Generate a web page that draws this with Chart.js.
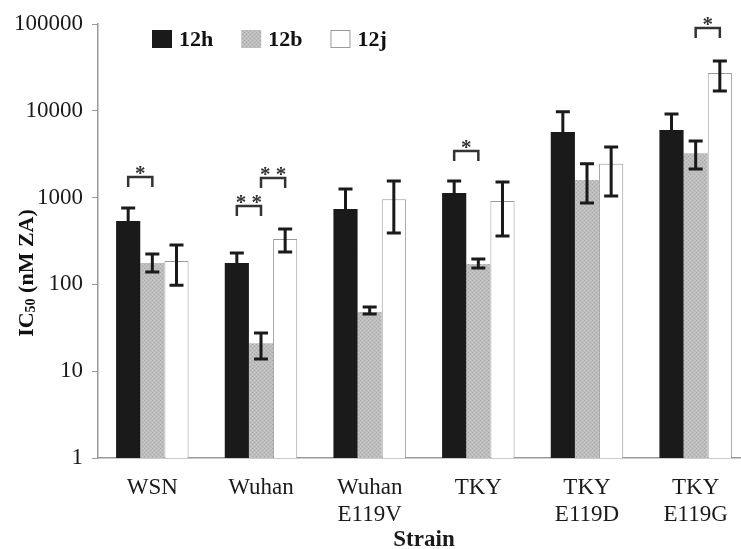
<!DOCTYPE html>
<html>
<head>
<meta charset="utf-8">
<script src="https://cdn.jsdelivr.net/npm/chart.js@4"></script>
<style>
  html, body { margin: 0; padding: 0; background: #fff; overflow: hidden; }
  canvas { display: block; }
</style>
</head>
<body>
<canvas id="ic50Chart" width="750" height="549"></canvas>
<script>
// strains on the x axis (multi-line labels)
const strains = [['WSN'], ['Wuhan'], ['Wuhan', 'E119V'], ['TKY'], ['TKY', 'E119D'], ['TKY', 'E119G']];
const seriesNames = ['12h', '12b', '12j'];

// IC50 (nM ZA)
const ic50_12h = [537, 177, 740, 1130, 5700, 6000];
const ic50_12b = [177, 21, 48, 172, 1590, 3250];
const ic50_12j = [186, 333, 960, 915, 2455, 27250];

// error bar ends
const errHigh_12h = [760, 230, 1255, 1550, 9730, 9200];
const errLow_12h  = [314, 124, 225, 710, 1670, 2800];
const errHigh_12b = [224, 27.5, 55, 196, 2455, 4500];
const errLow_12b  = [139, 13.8, 45.6, 155, 865, 2130];
const errHigh_12j = [284, 436, 1550, 1510, 3830, 37500];
const errLow_12j  = [98, 236, 390, 362, 1040, 16900];

const yTicks = [1, 10, 100, 1000, 10000, 100000];

// significance brackets: strain index, from series, to series, height (nM), stars
const sigCat   = [0, 1, 1, 3, 5];
const sigFrom  = [0, 0, 1, 0, 1];
const sigTo    = [1, 1, 2, 1, 2];
const sigLevel = [1730, 800, 1680, 3440, 90000];
const sigText  = ['*', '* *', '* *', '*', '*'];

const ctx = document.getElementById('ic50Chart').getContext('2d');
const SERIF = '"Liberation Serif", "Times New Roman", serif';
const INK = '#1a1a1a';

function stipple() {
  const c = document.createElement('canvas');
  c.width = 4; c.height = 4;
  const g = c.getContext('2d');
  g.fillStyle = '#bdbdbd'; g.fillRect(0, 0, 4, 4);
  g.fillStyle = '#aaaaaa'; g.fillRect(0, 0, 1, 1); g.fillRect(2, 2, 1, 1);
  g.fillStyle = '#cbcbcb'; g.fillRect(2, 0, 1, 1); g.fillRect(0, 2, 1, 1);
  return ctx.createPattern(c, 'repeat');
}
const grayFill = stipple();

const errors = [[errLow_12h, errHigh_12h], [errLow_12b, errHigh_12b], [errLow_12j, errHigh_12j]];

const errorBarPlugin = {
  id: 'errorBars',
  afterDatasetsDraw(chart) {
    const c = chart.ctx, y = chart.scales.y;
    c.save();
    c.strokeStyle = INK;
    c.lineWidth = 3;
    errors.forEach(([lo, hi], d) => {
      chart.getDatasetMeta(d).data.forEach((bar, i) => {
        const yl = y.getPixelForValue(lo[i]), yh = y.getPixelForValue(hi[i]);
        c.beginPath();
        c.moveTo(bar.x, yl); c.lineTo(bar.x, yh);
        c.moveTo(bar.x - 7, yh); c.lineTo(bar.x + 7, yh);
        c.moveTo(bar.x - 7, yl); c.lineTo(bar.x + 7, yl);
        c.stroke();
      });
    });
    c.restore();
  }
};

const bracketPlugin = {
  id: 'brackets',
  afterDatasetsDraw(chart) {
    const c = chart.ctx, y = chart.scales.y;
    c.save();
    c.strokeStyle = '#333';
    c.lineWidth = 2.5;
    c.fillStyle = '#333';
    c.font = 'bold 21px ' + SERIF;
    c.textAlign = 'center';
    c.textBaseline = 'alphabetic';
    sigCat.forEach((cat, k) => {
      const x1 = chart.getDatasetMeta(sigFrom[k]).data[cat].x;
      const x2 = chart.getDatasetMeta(sigTo[k]).data[cat].x;
      const yy = y.getPixelForValue(sigLevel[k]);
      c.beginPath();
      c.moveTo(x1, yy + 10); c.lineTo(x1, yy); c.lineTo(x2, yy); c.lineTo(x2, yy + 10);
      c.stroke();
      c.fillText(sigText[k], (x1 + x2) / 2, yy + 3);
    });
    c.restore();
  }
};

const legendAndTitlePlugin = {
  id: 'legendAndTitle',
  afterDraw(chart) {
    const c = chart.ctx, area = chart.chartArea;
    c.save();
    // legend
    c.font = 'bold 22px ' + SERIF;
    c.textBaseline = 'middle';
    c.textAlign = 'left';
    let x = area.left + 54;
    const top = area.top + 6;
    chart.data.datasets.forEach(ds => {
      c.fillStyle = ds.backgroundColor;
      c.fillRect(x, top, 20, 18);
      if (ds.borderWidth) {
        c.strokeStyle = ds.borderColor;
        c.lineWidth = 1;
        c.strokeRect(x + 0.5, top + 0.5, 19, 17);
      }
      c.fillStyle = '#111';
      c.fillText(ds.label, x + 27, top + 10);
      x += 27 + c.measureText(ds.label).width + 28;
    });
    // y axis title with subscript
    const cy = (area.top + area.bottom) / 2 + 32;
    c.translate(33, cy);
    c.rotate(-Math.PI / 2);
    c.textBaseline = 'alphabetic';
    const big = 'bold 22px ' + SERIF, small = 'bold 14px ' + SERIF;
    c.font = big; const w1 = c.measureText('IC').width;
    c.font = small; const w2 = c.measureText('50').width;
    c.font = big; const w3 = c.measureText(' (nM ZA)').width;
    let tx = -(w1 + w2 + w3) / 2;
    c.fillStyle = '#111';
    c.font = big; c.fillText('IC', tx, 0); tx += w1;
    c.font = small; c.fillText('50', tx, 2); tx += w2;
    c.font = big; c.fillText(' (nM ZA)', tx, 0);
    c.restore();
  }
};

new Chart(ctx, {
  type: 'bar',
  data: {
    labels: strains,
    datasets: [
      { label: seriesNames[0], data: ic50_12h, backgroundColor: INK, borderWidth: 0 },
      { label: seriesNames[1], data: ic50_12b, backgroundColor: grayFill, borderWidth: 0 },
      { label: seriesNames[2], data: ic50_12j, backgroundColor: '#ffffff', borderColor: '#9a9a9a', borderWidth: 1 }
    ]
  },
  options: {
    responsive: false,
    animation: false,
    devicePixelRatio: 1,
    layout: { padding: { top: 24, right: 0, bottom: 0, left: 0 } },
    datasets: { bar: { categoryPercentage: 0.667, barPercentage: 1 } },
    plugins: { legend: { display: false }, tooltip: { enabled: false } },
    scales: {
      x: {
        grid: { display: false, drawTicks: false },
        border: { display: true, color: '#999', width: 1.5 },
        ticks: { color: INK, padding: 16, maxRotation: 0, font: { family: SERIF, size: 23, lineHeight: 1.2 } },
        title: { display: true, text: 'Strain', color: INK, padding: { top: 0, bottom: -3 }, font: { family: SERIF, size: 23, weight: 'bold', lineHeight: 1 } },
        afterFit(scale) { scale.height = 91; }
      },
      y: {
        type: 'logarithmic',
        min: 1,
        max: 100000,
        afterBuildTicks(scale) { scale.ticks = yTicks.map(v => ({ value: v })); },
        grid: { display: true, drawOnChartArea: false, drawTicks: true, tickLength: 6, color: '#999' },
        border: { display: true, color: '#999', width: 1.5 },
        ticks: { color: INK, padding: 9, font: { family: SERIF, size: 23 }, callback: v => String(v) },
        afterFit(scale) { scale.width = 98; }
      }
    }
  },
  plugins: [errorBarPlugin, bracketPlugin, legendAndTitlePlugin]
});
</script>
</body>
</html>
